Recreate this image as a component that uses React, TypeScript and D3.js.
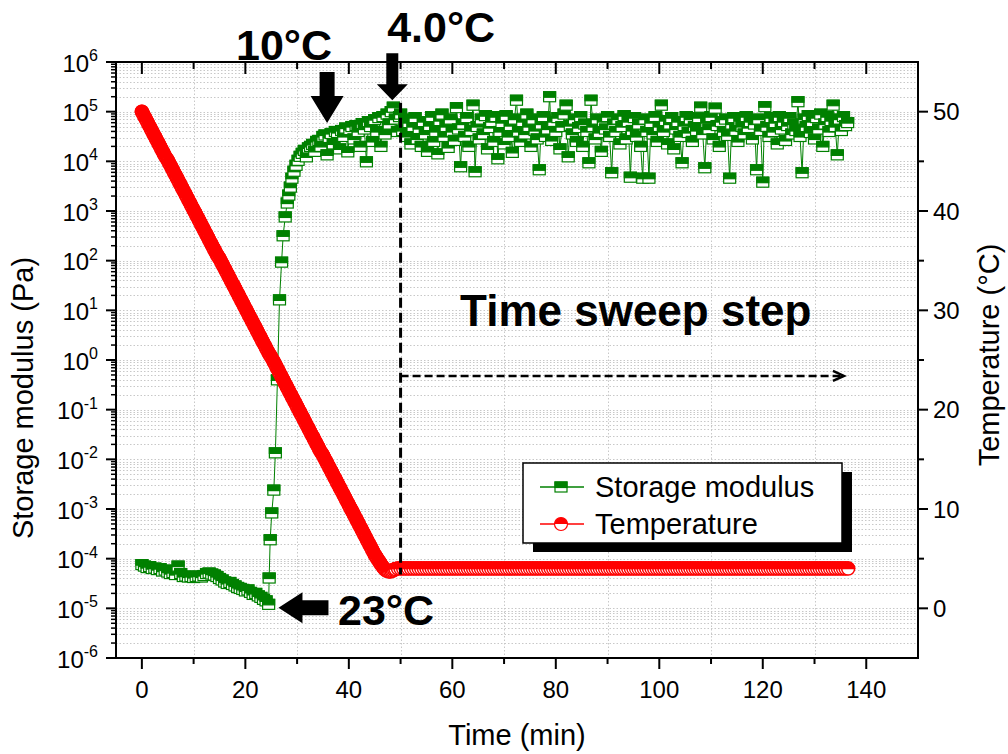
import React, { useRef, useEffect } from 'react';
import * as d3 from 'd3';

// storage modulus, stored as log10(G' / Pa)
// cooling, before gelation (t = 0 .. 24.5 min, every 0.5 min)
const lowStart = 0;
const lowStep = 0.5;
const lowLogG = [
  -4.12, -4.15, -4.18, -4.16, -4.2, -4.19, -4.22, -4.2, -4.25, -4.23,
  -4.27, -4.3, -4.28, -4.32, -4.15, -4.3, -4.36, -4.35, -4.37, -4.36,
  -4.38, -4.36, -4.35, -4.37, -4.34, -4.3, -4.29, -4.31, -4.33, -4.36,
  -4.4, -4.43, -4.47, -4.5, -4.48, -4.52, -4.55, -4.58, -4.6, -4.62,
  -4.65, -4.63, -4.68, -4.72, -4.7, -4.75, -4.78, -4.82, -4.85, -4.92
];

// sharp rise
const riseTime = [24.6, 24.8, 25.1, 25.5, 25.8, 26.2, 26.6, 27.0, 27.3, 27.7, 28.1, 28.4, 28.7];
const riseLogG = [-4.39, -3.62, -3.08, -2.62, -1.87, -0.4, 1.21, 1.97, 2.5, 2.88, 3.16, 3.32, 3.48];

// approach to plateau (t = 29 .. 49.8 min, every 0.4 min)
const plateauStart = 29;
const plateauStep = 0.4;
const plateauLogG = [
  3.66, 3.8, 3.92, 4.02, 4.1, 4.16, 4.22, 4.09, 4.27, 4.3,
  4.34, 4.2, 4.4, 4.42, 4.3, 4.5, 4.53, 4.13, 4.48, 4.56,
  4.35, 4.6, 4.58, 4.25, 4.62, 4.5, 4.67, 4.19, 4.64, 4.7,
  4.45, 4.72, 4.6, 4.3, 4.76, 4.65, 3.99, 4.8, 4.7, 4.4,
  4.84, 4.6, 4.88, 4.3, 4.9, 4.55, 4.95, 4.75, 5.0, 5.09,
  4.85, 4.6, 4.9
];

// time sweep step (t = 50 .. 136.4 min, every 0.4 min)
const sweepStart = 50;
const sweepStep = 0.4;
const sweepLogG = [
  4.95, 4.62, 4.85, 4.5, 4.78, 4.35, 4.7, 4.88, 4.45, 4.66,
  4.3, 4.8, 4.55, 4.2, 4.72, 4.9, 4.4, 4.6, 4.15, 4.82,
  4.95, 4.5, 4.7, 4.28, 4.85, 4.6, 4.42, 5.08, 4.65, 3.89,
  4.75, 4.5, 4.88, 4.3, 4.62, 5.13, 3.79, 4.7, 4.45, 4.85,
  4.55, 4.92, 4.25, 4.68, 4.8, 4.4, 4.9, 4.05, 4.6, 4.78,
  4.35, 4.92, 4.5, 4.72, 4.18, 4.85, 5.23, 4.6, 4.4, 4.8,
  4.55, 4.95, 4.7, 4.3, 4.85, 4.62, 4.45, 3.83, 4.75, 4.9,
  4.5, 4.65, 5.3, 4.42, 4.8, 4.6, 4.88, 4.25, 4.7, 4.95,
  5.13, 4.09, 4.72, 4.55, 4.85, 4.4, 4.68, 4.9, 4.3, 4.75,
  4.6, 3.97, 5.23, 4.7, 4.45, 4.85, 4.58, 4.2, 4.8, 4.65,
  4.9, 4.5, 3.77, 4.75, 4.6, 4.85, 4.35, 4.7, 4.92, 4.45,
  4.8, 3.68, 4.62, 4.88, 4.5, 4.75, 4.3, 3.66, 4.85, 4.6,
  3.66, 4.78, 4.55, 4.9, 4.4, 4.7, 5.13, 4.6, 4.82, 4.35,
  4.75, 4.88, 4.25, 4.65, 4.8, 4.5, 3.97, 4.72, 4.9, 4.58,
  4.85, 4.4, 4.7, 4.62, 4.88, 5.09, 4.55, 3.87, 4.78, 4.65,
  4.9, 4.45, 5.07, 4.72, 4.3, 4.8, 4.6, 4.85, 4.52, 3.66,
  4.75, 4.88, 4.62, 4.4, 4.82, 4.7, 4.55, 4.9, 4.68, 4.8,
  4.45, 4.75, 3.83, 4.85, 4.62, 3.58, 5.1, 4.7, 4.5, 4.88,
  4.6, 4.78, 4.35, 4.9, 4.65, 4.8, 4.42, 4.72, 4.88, 4.55,
  4.75, 4.62, 5.2, 4.5, 3.77, 4.85, 4.7, 4.92, 4.58, 4.8,
  4.45, 4.88, 4.65, 4.95, 4.3, 4.75, 4.9, 4.6, 4.82, 5.13,
  4.7, 4.13, 4.85, 4.62, 4.9, 4.72, 4.78
];

// temperature (°C), cooling ramp t = 0 .. 49 min, every 0.25 min
const rampStart = 0;
const rampStep = 0.25;
const rampTemp = [
  50.0, 49.75, 49.5, 49.25, 49.0, 48.75, 48.5, 48.25, 48.0, 47.75,
  47.5, 47.25, 47.0, 46.75, 46.5, 46.25, 46.0, 45.75, 45.5, 45.3,
  45.1, 44.85, 44.6, 44.35, 44.1, 43.85, 43.6, 43.35, 43.1, 42.85,
  42.6, 42.35, 42.1, 41.85, 41.6, 41.35, 41.1, 40.85, 40.6, 40.35,
  40.1, 39.85, 39.6, 39.35, 39.1, 38.85, 38.6, 38.35, 38.1, 37.85,
  37.6, 37.35, 37.1, 36.85, 36.6, 36.35, 36.1, 35.85, 35.6, 35.4,
  35.2, 34.95, 34.7, 34.45, 34.2, 33.95, 33.7, 33.45, 33.2, 32.95,
  32.7, 32.45, 32.2, 31.95, 31.7, 31.45, 31.2, 30.95, 30.7, 30.45,
  30.2, 29.95, 29.7, 29.45, 29.2, 28.95, 28.7, 28.45, 28.2, 27.95,
  27.7, 27.45, 27.2, 26.95, 26.7, 26.45, 26.2, 25.95, 25.7, 25.5,
  25.3, 25.05, 24.8, 24.55, 24.3, 24.05, 23.8, 23.55, 23.3, 23.05,
  22.8, 22.55, 22.3, 22.05, 21.8, 21.55, 21.3, 21.05, 20.8, 20.55,
  20.3, 20.05, 19.8, 19.55, 19.3, 19.05, 18.8, 18.55, 18.3, 18.05,
  17.8, 17.55, 17.3, 17.05, 16.8, 16.55, 16.3, 16.05, 15.8, 15.6,
  15.4, 15.15, 14.9, 14.65, 14.4, 14.15, 13.9, 13.65, 13.4, 13.15,
  12.9, 12.65, 12.4, 12.15, 11.9, 11.65, 11.4, 11.15, 10.9, 10.65,
  10.4, 10.15, 9.9, 9.65, 9.4, 9.15, 8.9, 8.65, 8.4, 8.15,
  7.9, 7.65, 7.4, 7.15, 6.9, 6.65, 6.4, 6.15, 5.9, 5.65,
  5.4, 5.2, 5.0, 4.8, 4.6, 4.4, 4.2, 4.05, 3.9, 3.8,
  3.75, 3.72, 3.7, 3.75, 3.8, 3.88, 3.95
];

// isothermal hold t = 49.5 .. 136.5 min, every 0.5 min
const holdStart = 49.5;
const holdStep = 0.5;
const holdTemp = [
  4.0, 4.0, 4.0, 4.0, 4.0, 4.0, 4.0, 4.0, 4.0, 4.0,
  4.0, 4.0, 4.0, 4.0, 4.0, 4.0, 4.0, 4.0, 4.0, 4.0,
  4.0, 4.0, 4.0, 4.0, 4.0, 4.0, 4.0, 4.0, 4.0, 4.0,
  4.0, 4.0, 4.0, 4.0, 4.0, 4.0, 4.0, 4.0, 4.0, 4.0,
  4.0, 4.0, 4.0, 4.0, 4.0, 4.0, 4.0, 4.0, 4.0, 4.0,
  4.0, 4.0, 4.0, 4.0, 4.0, 4.0, 4.0, 4.0, 4.0, 4.0,
  4.0, 4.0, 4.0, 4.0, 4.0, 4.0, 4.0, 4.0, 4.0, 4.0,
  4.0, 4.0, 4.0, 4.0, 4.0, 4.0, 4.0, 4.0, 4.0, 4.0,
  4.0, 4.0, 4.0, 4.0, 4.0, 4.0, 4.0, 4.0, 4.0, 4.0,
  4.0, 4.0, 4.0, 4.0, 4.0, 4.0, 4.0, 4.0, 4.0, 4.0,
  4.0, 4.0, 4.0, 4.0, 4.0, 4.0, 4.0, 4.0, 4.0, 4.0,
  4.0, 4.0, 4.0, 4.0, 4.0, 4.0, 4.0, 4.0, 4.0, 4.0,
  4.0, 4.0, 4.0, 4.0, 4.0, 4.0, 4.0, 4.0, 4.0, 4.0,
  4.0, 4.0, 4.0, 4.0, 4.0, 4.0, 4.0, 4.0, 4.0, 4.0,
  4.0, 4.0, 4.0, 4.0, 4.0, 4.0, 4.0, 4.0, 4.0, 4.0,
  4.0, 4.0, 4.0, 4.0, 4.0, 4.0, 4.0, 4.0, 4.0, 4.0,
  4.0, 4.0, 4.0, 4.0, 4.0, 4.0, 4.0, 4.0, 4.0, 4.0,
  4.0, 4.0, 4.0, 4.0, 4.0
];

const xTicks = [0, 20, 40, 60, 80, 100, 120, 140];
const xMinorTicks = [10, 30, 50, 70, 90, 110, 130];
const decades = [-6, -5, -4, -3, -2, -1, 0, 1, 2, 3, 4, 5, 6];
const tempTicks = [0, 10, 20, 30, 40, 50];
const tempMinorTicks = [5, 15, 25, 35, 45];

const GREEN = '#008000';
const RED = '#ff0000';
const FONT = 'Arial, "Liberation Sans", Helvetica, sans-serif';

const App = () => {
  const svgRef = useRef(null);

  useEffect(() => {
    const width = 1008;
    const height = 754;
    const margin = { top: 62, right: 90, bottom: 96, left: 116 };
    const x0 = margin.left;
    const x1 = width - margin.right;
    const y0 = margin.top;
    const y1 = height - margin.bottom;

    const svg = d3.select(svgRef.current);
    svg.selectAll('*').remove();
    svg.attr('width', width).attr('height', height).attr('viewBox', `0 0 ${width} ${height}`);
    svg.append('rect').attr('width', width).attr('height', height).attr('fill', '#fff');

    const x = d3.scaleLinear().domain([-5, 150]).range([x0, x1]);
    const y = d3.scaleLog().domain([1e-6, 1e6]).range([y1, y0]);
    const yT = d3.scaleLinear().domain([-5, 55]).range([y1, y0]);

    const gData = [
      ...lowLogG.map((v, i) => ({ t: lowStart + i * lowStep, g: Math.pow(10, v) })),
      ...riseLogG.map((v, i) => ({ t: riseTime[i], g: Math.pow(10, v) })),
      ...plateauLogG.map((v, i) => ({ t: plateauStart + i * plateauStep, g: Math.pow(10, v) })),
      ...sweepLogG.map((v, i) => ({ t: sweepStart + i * sweepStep, g: Math.pow(10, v) }))
    ];
    const tData = [
      ...rampTemp.map((v, i) => ({ t: rampStart + i * rampStep, T: v })),
      ...holdTemp.map((v, i) => ({ t: holdStart + i * holdStep, T: v }))
    ];

    // grid
    const grid = svg.append('g').attr('stroke', '#c8c8c8').attr('stroke-width', 1).attr('stroke-dasharray', '1.5,2');
    const logGrid: number[] = [];
    decades.slice(0, -1).forEach(k => {
      for (let m = 1; m < 10; m++) logGrid.push(m * Math.pow(10, k));
    });
    grid.selectAll('line.h').data(logGrid).join('line')
      .attr('x1', x0).attr('x2', x1)
      .attr('y1', d => Math.round(y(d)) + 0.5).attr('y2', d => Math.round(y(d)) + 0.5);
    grid.selectAll('line.v').data(xMinorTicks).join('line')
      .attr('x1', d => Math.round(x(d)) + 0.5).attr('x2', d => Math.round(x(d)) + 0.5)
      .attr('y1', y0).attr('y2', y1);

    // storage modulus
    const gLine = d3.line<any>().x(d => x(d.t)).y(d => y(d.g));
    svg.append('path').datum(gData).attr('d', gLine)
      .attr('fill', 'none').attr('stroke', GREEN).attr('stroke-width', 1);

    const sq = svg.append('g').selectAll('g').data(gData).join('g')
      .attr('transform', d => `translate(${x(d.t)},${y(d.g)})`);
    sq.append('rect').attr('x', -6).attr('y', -5).attr('width', 12).attr('height', 10)
      .attr('fill', '#fff').attr('stroke', GREEN).attr('stroke-width', 1.2);
    sq.append('rect').attr('x', -6).attr('y', -5).attr('width', 12).attr('height', 5.5)
      .attr('fill', GREEN).attr('stroke', GREEN).attr('stroke-width', 1.2);

    // temperature
    const tLine = d3.line<any>().x(d => x(d.t)).y(d => yT(d.T));
    svg.append('path').datum(tData).attr('d', tLine)
      .attr('fill', 'none').attr('stroke', RED).attr('stroke-width', 1.5);
    const r = 6.5;
    const ci = svg.append('g').selectAll('g').data(tData).join('g')
      .attr('transform', d => `translate(${x(d.t)},${yT(d.T)})`);
    ci.append('circle').attr('r', r).attr('fill', '#fff').attr('stroke', RED).attr('stroke-width', 1.5);
    ci.append('path').attr('d', `M${-r},0A${r},${r} 0 0 1 ${r},0Z`)
      .attr('fill', RED).attr('stroke', RED).attr('stroke-width', 1.5);

    // annotations
    const ann = svg.append('g');
    ann.append('line')
      .attr('x1', x(50)).attr('x2', x(50))
      .attr('y1', y(Math.pow(10, 5.18))).attr('y2', yT(3.4))
      .attr('stroke', '#000').attr('stroke-width', 3).attr('stroke-dasharray', '10,5');
    const arrowY = yT(23.4);
    ann.append('line')
      .attr('x1', x(50)).attr('x2', x(135.3))
      .attr('y1', arrowY).attr('y2', arrowY)
      .attr('stroke', '#000').attr('stroke-width', 2.5).attr('stroke-dasharray', '8,4');
    ann.append('path')
      .attr('d', `M${x(135.3) - 9},${arrowY - 5}L${x(135.3) + 2},${arrowY}L${x(135.3) - 9},${arrowY + 5}`)
      .attr('fill', 'none').attr('stroke', '#000').attr('stroke-width', 2.5);

    const downArrow = (tx, ty, len, shaftW, headW, headL) =>
      `M${tx - shaftW / 2},${ty - len}L${tx + shaftW / 2},${ty - len}L${tx + shaftW / 2},${ty - headL}` +
      `L${tx + headW / 2},${ty - headL}L${tx},${ty}L${tx - headW / 2},${ty - headL}L${tx - shaftW / 2},${ty - headL}Z`;
    ann.append('path').attr('d', downArrow(x(35.8), y(Math.pow(10, 4.77)), 51, 15, 33, 27)).attr('fill', '#000');
    ann.append('path').attr('d', downArrow(x(48.4), y(Math.pow(10, 5.23)), 47, 12, 31, 16)).attr('fill', '#000');

    const lx = x(26.4);
    const ly = y(Math.pow(10, -4.99));
    ann.append('path')
      .attr('d', `M${lx},${ly}L${lx + 24},${ly - 15.5}L${lx + 24},${ly - 7.5}L${lx + 50},${ly - 7.5}` +
        `L${lx + 50},${ly + 7.5}L${lx + 24},${ly + 7.5}L${lx + 24},${ly + 15.5}Z`)
      .attr('fill', '#000');

    const bold = (tx, ty, s, size) =>
      ann.append('text').attr('x', tx).attr('y', ty).attr('font-family', FONT)
        .attr('font-weight', 'bold').attr('font-size', size).attr('fill', '#000').text(s);
    bold(x(18.2), 60, '10°C', 43);
    bold(x(47.4), 42, '4.0°C', 43);
    bold(x(37.9), ly + 17, '23°C', 43);
    bold(x(61.5), yT(28.4), 'Time sweep step', 44);

    // axes frame
    const ax = svg.append('g').attr('stroke', '#000').attr('stroke-width', 2);
    ax.append('rect').attr('x', x0).attr('y', y0).attr('width', x1 - x0).attr('height', y1 - y0).attr('fill', 'none');

    // x ticks (bottom outward, top inward)
    xTicks.forEach(t => {
      ax.append('line').attr('x1', x(t)).attr('x2', x(t)).attr('y1', y1).attr('y2', y1 + 11);
      ax.append('line').attr('x1', x(t)).attr('x2', x(t)).attr('y1', y0).attr('y2', y0 + 12);
    });
    xMinorTicks.forEach(t => {
      ax.append('line').attr('x1', x(t)).attr('x2', x(t)).attr('y1', y1).attr('y2', y1 + 6);
      ax.append('line').attr('x1', x(t)).attr('x2', x(t)).attr('y1', y0).attr('y2', y0 + 7);
    });
    svg.append('g').selectAll('text').data(xTicks).join('text')
      .attr('x', d => x(d)).attr('y', 698).attr('text-anchor', 'middle')
      .attr('font-family', FONT).attr('font-size', 24).text(d => d);

    // left log axis
    decades.forEach(k => {
      ax.append('line').attr('x1', x0 - 10).attr('x2', x0).attr('y1', y(Math.pow(10, k))).attr('y2', y(Math.pow(10, k)));
    });
    logGrid.filter(v => Math.abs(Math.log10(v) - Math.round(Math.log10(v))) > 1e-6).forEach(v => {
      ax.append('line').attr('x1', x0 - 5).attr('x2', x0).attr('y1', y(v)).attr('y2', y(v)).attr('stroke-width', 1.5);
    });
    const yl = svg.append('g').selectAll('text').data(decades).join('text')
      .attr('x', 98).attr('y', d => y(Math.pow(10, d)) + 9.5).attr('text-anchor', 'end')
      .attr('font-family', FONT).attr('font-size', 24);
    yl.append('tspan').text('10');
    yl.append('tspan').attr('dy', -10.5).attr('font-size', 16).text(d => String(d));

    // right temperature axis
    tempTicks.forEach(v => {
      ax.append('line').attr('x1', x1).attr('x2', x1 + 10).attr('y1', yT(v)).attr('y2', yT(v));
    });
    tempMinorTicks.forEach(v => {
      ax.append('line').attr('x1', x1).attr('x2', x1 + 6).attr('y1', yT(v)).attr('y2', yT(v));
    });
    svg.append('g').selectAll('text').data(tempTicks).join('text')
      .attr('x', x1 + 15).attr('y', d => yT(d) + 8.5)
      .attr('font-family', FONT).attr('font-size', 24).text(d => d);

    // axis titles
    svg.append('text').attr('x', (x0 + x1) / 2).attr('y', 745).attr('text-anchor', 'middle')
      .attr('font-family', FONT).attr('font-size', 29).text('Time (min)');
    svg.append('text').attr('transform', `translate(33,${(y0 + y1) / 2 + 38}) rotate(-90)`)
      .attr('text-anchor', 'middle').attr('font-family', FONT).attr('font-size', 29)
      .text('Storage modulus (Pa)');
    svg.append('text').attr('transform', `translate(999,${(y0 + y1) / 2 - 5}) rotate(-90)`)
      .attr('text-anchor', 'middle').attr('font-family', FONT).attr('font-size', 29)
      .text('Temperature (°C)');

    // legend
    const lg = svg.append('g').attr('transform', 'translate(523,463)');
    lg.append('rect').attr('x', 10).attr('y', 9).attr('width', 319).attr('height', 80).attr('fill', '#000');
    lg.append('rect').attr('width', 319).attr('height', 80).attr('fill', '#fff').attr('stroke', '#000').attr('stroke-width', 1.5);
    const e1 = lg.append('g').attr('transform', 'translate(38,24)');
    e1.append('line').attr('x1', -21).attr('x2', 23).attr('stroke', GREEN).attr('stroke-width', 1.5);
    e1.append('rect').attr('x', -6).attr('y', -5).attr('width', 12).attr('height', 10)
      .attr('fill', '#fff').attr('stroke', GREEN).attr('stroke-width', 1.2);
    e1.append('rect').attr('x', -6).attr('y', -5).attr('width', 12).attr('height', 5.5)
      .attr('fill', GREEN).attr('stroke', GREEN).attr('stroke-width', 1.2);
    lg.append('text').attr('x', 72).attr('y', 34).attr('font-family', FONT).attr('font-size', 29).text('Storage modulus');
    const e2 = lg.append('g').attr('transform', 'translate(38,61)');
    e2.append('line').attr('x1', -21).attr('x2', 23).attr('stroke', RED).attr('stroke-width', 1.5);
    e2.append('circle').attr('r', r).attr('fill', '#fff').attr('stroke', RED).attr('stroke-width', 1.2);
    e2.append('path').attr('d', `M${-r},0A${r},${r} 0 0 1 ${r},0Z`).attr('fill', RED);
    lg.append('text').attr('x', 72).attr('y', 71).attr('font-family', FONT).attr('font-size', 29).text('Temperature');
  }, []);

  return (
    <svg ref={svgRef} style={{ position: 'absolute', left: 0, top: 0, display: 'block' }}></svg>
  );
};

export default App;
